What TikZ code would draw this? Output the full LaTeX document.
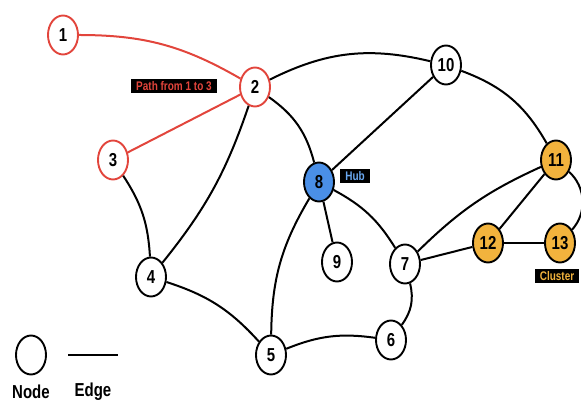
\documentclass[tikz,border=0pt]{standalone}
\usepackage{fontspec}
\setmainfont{Liberation Sans}
\usetikzlibrary{shapes.geometric}
\definecolor{pathred}{HTML}{E2453C}
\definecolor{hubblue}{HTML}{4A8FE7}
\definecolor{hubtext}{HTML}{6AA8F0}
\definecolor{clusorange}{HTML}{F2B33D}
\newcommand\tallx[1]{\scalebox{1}[1.25]{#1}}
\tikzset{
  vert/.style={ellipse, draw, line width=1.9pt, fill=white, minimum width=30pt,
    minimum height=39pt, inner sep=0pt, font=\bfseries\fontsize{15}{15}\selectfont},
  onpath/.style={vert, draw=pathred},
  hub/.style={vert, fill=hubblue},
  clus/.style={vert, fill=clusorange},
  tag/.style={fill=black, inner xsep=5pt, inner ysep=2.5pt, font=\bfseries\fontsize{10}{10}\selectfont},
  keytext/.style={inner sep=1pt, font=\bfseries\fontsize{15}{15}\selectfont},
  link/.style={line width=2pt},
}
\begin{document}
\begin{tikzpicture}[x=1pt,y=1pt]
\useasboundingbox (0,0) rectangle (581,404);
\node[onpath] (v1) at (63,369) {\tallx{1}};
\node[onpath] (v2) at (255,317) {\tallx{2}};
\node[onpath] (v3) at (113,244) {\tallx{3}};
\node[vert] (v4) at (151,127) {\tallx{4}};
\node[vert] (v5) at (271,49) {\tallx{5}};
\node[vert] (v6) at (391,64) {\tallx{6}};
\node[vert] (v7) at (405,140) {\tallx{7}};
\node[hub] (v8) at (319,222) {\tallx{8}};
\node[vert] (v9) at (337,142) {\tallx{9}};
\node[vert] (v10) at (446,339) {\tallx{10}};
\node[clus] (v11) at (556,244) {\tallx{11}};
\node[clus] (v12) at (488,161) {\tallx{12}};
\node[clus] (v13) at (560,161) {\tallx{13}};
\node[tag, text=pathred] (lpath) at (174,318) {\tallx{Path from 1 to 3}};
\node[tag, text=hubtext] (lhub) at (355,228) {\tallx{Hub}};
\node[tag, text=clusorange] (lclus) at (557,128) {\tallx{Cluster}};
\draw[link, pathred] (v1) to[out=0,in=150] (v2);
\draw[link, pathred] (v2) -- (v3);
\draw[link] (v2) to[bend left=20] (v10);
\draw[link] (v2) to[bend left=20] (v8);
\draw[link] (v2) to[bend left=10] (v4);
\draw[link] (v3) to[bend left=15] (v4);
\draw[link] (v4) to[bend left=15] (v5);
\draw[link] (v5) to[bend left=15] (v8);
\draw[link] (v5) to[bend left=15] (v6);
\draw[link] (v6) to[bend right=25] (v7);
\draw[link] (v8) -- (v9);
\draw[link] (v8) to[bend left=15] (v7);
\draw[link] (v8) -- (v10);
\draw[link] (v10) to[bend left=20] (v11);
\draw[link] (v7) to[bend left=10] (v11);
\draw[link] (v7) -- (v12);
\draw[link] (v11) -- (v12);
\draw[link] (v12) -- (v13);
\draw[link] (v11) to[bend left=45] (v13);
\node[vert] (key) at (31,49) {};
\coordinate (ea) at (68,49);
\coordinate (eb) at (118,49);
\draw[link] (ea) -- (eb);
\node[keytext] (knode) at (31,12) {\tallx{Node}};
\node[keytext] (kedge) at (93,12) {\tallx{Edge}};
\end{tikzpicture}
\end{document}
